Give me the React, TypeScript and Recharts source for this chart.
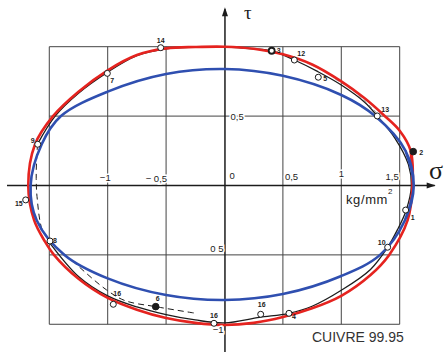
import { ComposedChart, XAxis, YAxis, Scatter, Line, ReferenceLine } from 'recharts';

// σ / τ readings (kg/mm²)
const redCurve: [number, number][] = [
  [1.61, 0], [1.594, 0.25], [1.5, 0.395], [1.36, 0.51], [1.2, 0.628], [1.0, 0.75],
  [0.75, 0.872], [0.5, 0.945], [0.25, 0.985], [0, 1.0], [-0.25, 0.998], [-0.5, 0.988],
  [-0.75, 0.94], [-1.0, 0.83], [-1.25, 0.676], [-1.468, 0.5], [-1.622, 0.297],
  [-1.68, 0], [-1.63, -0.25], [-1.54, -0.4], [-1.46, -0.5], [-1.25, -0.672],
  [-1.0, -0.81], [-0.75, -0.895], [-0.5, -0.955], [-0.25, -0.99], [0, -1.005],
  [0.25, -0.99], [0.5, -0.948], [0.75, -0.885], [1.0, -0.795], [1.25, -0.645],
  [1.41, -0.5], [1.568, -0.25], [1.61, 0],
];

const blueCurve: [number, number][] = [
  [1.62, 0], [1.55, 0.25], [1.29, 0.5], [1.0, 0.652], [0.5, 0.79], [0, 0.839],
  [-0.5, 0.803], [-1.0, 0.676], [-1.4, 0.5], [-1.565, 0.297], [-1.66, 0],
  [-1.608, -0.25], [-1.37, -0.5], [-1.0, -0.669], [-0.5, -0.789], [0, -0.825],
  [0.5, -0.782], [1.0, -0.652], [1.332, -0.5], [1.545, -0.25], [1.62, 0],
];

const blackSolid: [number, number][] = [
  [-1.6, 0.3], [-1.45, 0.5], [-1.25, 0.665], [-1.003, 0.815], [-0.75, 0.935],
  [-0.5, 0.985], [-0.25, 0.996], [0, 0.998], [0.25, 0.985], [0.404, 0.97],
  [0.598, 0.904], [0.8, 0.82], [1.0, 0.724], [1.2, 0.6], [1.308, 0.501],
  [1.46, 0.34], [1.575, 0.15], [1.6, 0], [1.555, -0.18], [1.48, -0.32],
  [1.397, -0.445], [1.25, -0.605], [1.0, -0.755], [0.75, -0.87], [0.552, -0.921],
  [0.3, -0.95], [0, -0.99], [-0.25, -0.969], [-0.5, -0.93], [-0.75, -0.875],
  [-1.0, -0.795], [-1.25, -0.655], [-1.49, -0.42],
];

const blackDashed: [number, number][] = [
  [-1.6, 0.3], [-1.608, 0.2], [-1.612, 0.05], [-1.605, -0.08], [-1.56, -0.32],
  [-1.494, -0.4], [-1.295, -0.549], [-1.009, -0.753], [-0.85, -0.83],
  [-0.589, -0.873], [-0.244, -0.921],
];

const upperDashed: [number, number][] = [[0.95, 0.765], [1.1, 0.685], [1.3, 0.525]];

const pointLabels = ['14', '7', '9', '15', '8', '16', '6', '16', '16', '4', '10', '1', '2', '13', '5', '12', '3'];
const pointSigma = [-0.546, -1.003, -1.599, -1.702, -1.494, -0.952, -0.589, -0.09, 0.31, 0.552, 1.397, 1.551, 1.616, 1.308, 0.803, 0.598, 0.404];
const pointTau = [0.993, 0.808, 0.297, -0.104, -0.4, -0.856, -0.873, -0.993, -0.928, -0.921, -0.445, -0.177, 0.244, 0.501, 0.78, 0.904, 0.971];
const filledPoints = ['6', '2'];

const sigmaTicks = [-1, -0.5, 0, 0.5, 1, 1.5];
const sigmaTickText = ['−1', '− 0,5', '0', '0,5', '1', '1,5'];
const tauTicks = [0.5, -0.5, -1];
const tauTickText = ['0,5', '0 5', '−1'];

const gridSigma = [-1.5, -1, -0.5, 0.5, 1, 1.5];
const gridTau = [-1, -0.5, 0.5, 1];

// ---- layout / style ----
const W = 447;
const H = 353;
const SIGMA_DOMAIN: [number, number] = [-1.922, 1.905];
const TAU_DOMAIN: [number, number] = [-1.207, 1.3365];
const RED = '#e5231f';
const BLUE = '#2f4fb0';
const INK = '#1c1c1c';

type Place = { dx: number; dy: number; anchor: 'start' | 'middle' | 'end' };
const pointPlace: Place[] = [
  { dx: 0, dy: -5, anchor: 'middle' },
  { dx: 3, dy: 10, anchor: 'start' },
  { dx: -3, dy: -1, anchor: 'end' },
  { dx: -3, dy: 6, anchor: 'end' },
  { dx: 3, dy: 2, anchor: 'start' },
  { dx: 0, dy: -8, anchor: 'start' },
  { dx: 2, dy: -6, anchor: 'middle' },
  { dx: 0, dy: -5, anchor: 'middle' },
  { dx: 1, dy: -7, anchor: 'middle' },
  { dx: 3, dy: 6, anchor: 'start' },
  { dx: -2, dy: -2, anchor: 'end' },
  { dx: 5, dy: 10, anchor: 'start' },
  { dx: 6, dy: 3, anchor: 'start' },
  { dx: 4, dy: -4, anchor: 'start' },
  { dx: 5, dy: 4, anchor: 'start' },
  { dx: 3, dy: -4, anchor: 'start' },
  { dx: 5, dy: 2, anchor: 'start' },
];
const sigmaTickPlace: Place[] = [
  { dx: 3, dy: -4, anchor: 'end' },
  { dx: 1, dy: -3, anchor: 'end' },
  { dx: 5, dy: -6, anchor: 'start' },
  { dx: 2, dy: -5, anchor: 'start' },
  { dx: 0, dy: -8, anchor: 'middle' },
  { dx: -1, dy: -5, anchor: 'end' },
];
const tauTickPlace: Place[] = [
  { dx: 6, dy: 4, anchor: 'start' },
  { dx: -1, dy: -3, anchor: 'end' },
  { dx: -1, dy: 9, anchor: 'end' },
];

// centripetal Catmull-Rom, so the hand-read points give a smooth pen-like stroke
function smoothCurve(context: any) {
  let pts: [number, number][] = [];
  return {
    areaStart() {},
    areaEnd() {},
    lineStart() {
      pts = [];
    },
    point(x: number, y: number) {
      pts.push([+x, +y]);
    },
    lineEnd() {
      if (!pts.length) return;
      context.moveTo(pts[0][0], pts[0][1]);
      for (let i = 0; i < pts.length - 1; i++) {
        const p0 = pts[Math.max(i - 1, 0)];
        const p1 = pts[i];
        const p2 = pts[i + 1];
        const p3 = pts[Math.min(i + 2, pts.length - 1)];
        const d01 = Math.hypot(p1[0] - p0[0], p1[1] - p0[1]);
        const d12 = Math.hypot(p2[0] - p1[0], p2[1] - p1[1]);
        const d23 = Math.hypot(p3[0] - p2[0], p3[1] - p2[1]);
        const a01 = Math.sqrt(d01);
        const a12 = Math.sqrt(d12);
        const a23 = Math.sqrt(d23);
        let c1x = p1[0];
        let c1y = p1[1];
        let c2x = p2[0];
        let c2y = p2[1];
        if (a01 > 1e-6) {
          const a = 2 * d01 + 3 * a01 * a12 + d12;
          const n = 3 * a01 * (a01 + a12);
          c1x = (p1[0] * a - p0[0] * d12 + p2[0] * d01) / n;
          c1y = (p1[1] * a - p0[1] * d12 + p2[1] * d01) / n;
        }
        if (a23 > 1e-6) {
          const b = 2 * d23 + 3 * a23 * a12 + d12;
          const m = 3 * a23 * (a23 + a12);
          c2x = (p2[0] * b + p1[0] * d23 - p3[0] * d12) / m;
          c2y = (p2[1] * b + p1[1] * d23 - p3[1] * d12) / m;
        }
        context.bezierCurveTo(c1x, c1y, c2x, c2y, p2[0], p2[1]);
      }
    },
  };
}

const toXY = (pts: [number, number][]) => pts.map(([x, y]) => ({ x, y }));
// pad a closed loop on both ends so the curve has no kink where it closes
const closeLoop = (pts: [number, number][]) => toXY([pts[pts.length - 2], ...pts, pts[1]]);

const pointData = pointLabels.map((label, i) => ({ x: pointSigma[i], y: pointTau[i], label, i }));
const sigmaTickData = sigmaTicks.map((v, i) => ({ x: v, y: 0, label: sigmaTickText[i], i, kind: 's' }));
const tauTickData = tauTicks.map((v, i) => ({ x: 0, y: v, label: tauTickText[i], i, kind: 't' }));

function PointMark(props: any) {
  const { cx, cy, payload } = props;
  const place = pointPlace[payload.i];
  const filled = filledPoints.includes(payload.label);
  const bold = payload.label === '3';
  return (
    <g>
      <circle
        cx={cx}
        cy={cy}
        r={filled ? 3.3 : 3}
        fill={filled ? INK : '#fff'}
        stroke={INK}
        strokeWidth={bold ? 1.8 : 1}
      />
      <text
        x={cx + place.dx}
        y={cy + place.dy}
        textAnchor={place.anchor}
        fontSize={7}
        fontWeight="bold"
        fontFamily="Liberation Sans, Arial, sans-serif"
        fill={INK}
      >
        {payload.label}
      </text>
    </g>
  );
}

function TickText(props: any) {
  const { cx, cy, payload } = props;
  const place = payload.kind === 's' ? sigmaTickPlace[payload.i] : tauTickPlace[payload.i];
  return (
    <text
      x={cx + place.dx}
      y={cy + place.dy}
      textAnchor={place.anchor}
      fontSize={9.5}
      fontFamily="Liberation Sans, Arial, sans-serif"
      fill={INK}
      stroke="#fff"
      strokeWidth={3}
      paintOrder="stroke"
    >
      {payload.label}
    </text>
  );
}

const ArrowRight = (props: any) => {
  const { cx, cy } = props;
  return <polygon points={`${cx},${cy} ${cx - 9},${cy - 3} ${cx - 9},${cy + 3}`} fill={INK} />;
};
const ArrowUp = (props: any) => {
  const { cx, cy } = props;
  return <polygon points={`${cx},${cy} ${cx - 3},${cy + 9} ${cx + 3},${cy + 9}`} fill={INK} />;
};

const curveLine = (data: { x: number; y: number }[], stroke: string, width: number, dash?: string) => (
  <Line
    data={data}
    dataKey="y"
    type={smoothCurve as any}
    stroke={stroke}
    strokeWidth={width}
    strokeDasharray={dash}
    dot={false}
    activeDot={false}
    isAnimationActive={false}
  />
);

export default function App() {
  return (
    <div style={{ position: 'absolute', left: 0, top: 0, width: W, height: H, background: '#fff' }}>
      <ComposedChart width={W} height={H} margin={{ top: 0, right: 0, bottom: 0, left: 0 }}>
        <XAxis type="number" dataKey="x" domain={SIGMA_DOMAIN} hide allowDataOverflow />
        <YAxis type="number" dataKey="y" domain={TAU_DOMAIN} hide allowDataOverflow />

        {gridSigma.map((s) => (
          <ReferenceLine key={`gx${s}`} segment={[{ x: s, y: -1 }, { x: s, y: 1 }]} stroke="#444" strokeWidth={1} />
        ))}
        {gridTau.map((t) => (
          <ReferenceLine key={`gy${t}`} segment={[{ x: -1.5, y: t }, { x: 1.5, y: t }]} stroke="#444" strokeWidth={1} />
        ))}
        <ReferenceLine segment={[{ x: -1.862, y: 0 }, { x: 1.8, y: 0 }]} stroke={INK} strokeWidth={1.5} />
        <ReferenceLine segment={[{ x: 0.004, y: -1.2 }, { x: 0.004, y: 1.27 }]} stroke={INK} strokeWidth={1.5} />

        <Scatter data={[{ x: 1.808, y: 0 }]} shape={ArrowRight} isAnimationActive={false} />
        <Scatter data={[{ x: 0.004, y: 1.284 }]} shape={ArrowUp} isAnimationActive={false} />

        {curveLine(toXY(blackSolid), INK, 1.3)}
        {curveLine(toXY(blackDashed), INK, 1, '6 4')}
        {curveLine(toXY(upperDashed), '#777', 0.8, '4 3')}
        {curveLine(closeLoop(redCurve), RED, 2.6)}
        {curveLine(closeLoop(blueCurve), BLUE, 2.6)}

        <Scatter data={sigmaTickData} shape={TickText} isAnimationActive={false} />
        <Scatter data={tauTickData} shape={TickText} isAnimationActive={false} />
        <Scatter data={pointData} shape={PointMark} isAnimationActive={false} />
      </ComposedChart>

      <svg
        width={W}
        height={H}
        style={{ position: 'absolute', left: 0, top: 0, pointerEvents: 'none' }}
      >
        <text x={244} y={19} fontSize={19} fontFamily="Liberation Serif, serif" fill={INK}>τ</text>
        <text x={429} y={179} fontSize={26} fontFamily="Liberation Serif, serif" fill={INK}>σ</text>
        <text x={346} y={204} fontSize={13} letterSpacing={0.6} fontFamily="Liberation Sans, Arial, sans-serif" fill={INK}>
          kg/mm
        </text>
        <text x={388} y={194} fontSize={8} fontFamily="Liberation Sans, Arial, sans-serif" fill={INK}>2</text>
        <text x={312} y={342} fontSize={14} fontFamily="Liberation Sans, Arial, sans-serif" fill="#333">
          CUIVRE 99.95
        </text>
      </svg>
    </div>
  );
}
